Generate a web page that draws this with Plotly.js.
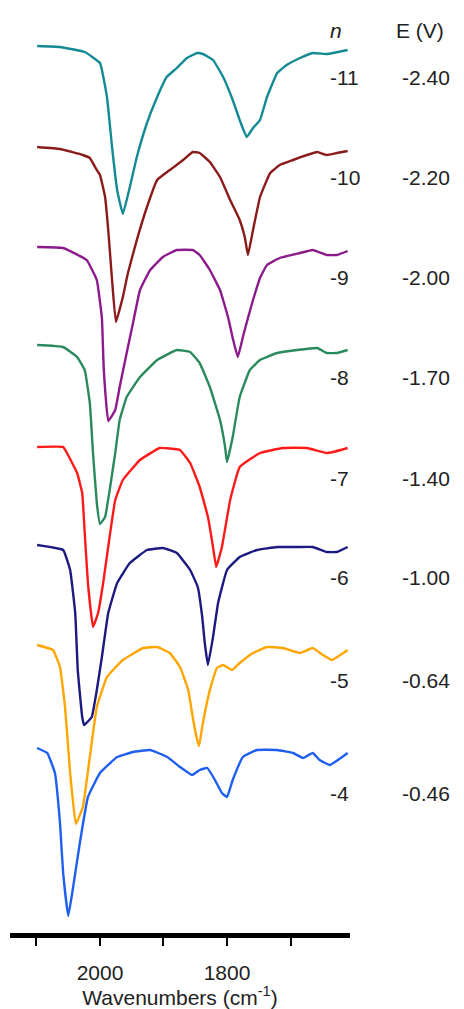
<!DOCTYPE html>
<html>
<head>
<meta charset="utf-8">
<script src="https://cdn.plot.ly/plotly-3.0.1.min.js"></script>
<style>html,body{margin:0;padding:0;background:#fff;}#chart{width:464px;height:1009px;}</style>
</head>
<body>
<div id="chart"></div>
<script>
// ---- data (wavenumbers in cm-1, stacked transmittance in arbitrary units) ----
const nLabels = ['-11','-10','-9','-8','-7','-6','-5','-4'];
const eLabels = ['-2.40','-2.20','-2.00','-1.70','-1.40','-1.00','-0.64','-0.46'];

const wnN11 = [2099,2063,2024,2000,1989,1981,1973,1964,1953,1942,1926,1910,1895,1879,1863,1847,1838,1822,1806,1791,1780,1769,1759,1748,1737,1721,1706,1685,1665,1643,1633,1610];
const tN11  = [8.87,8.86,8.81,8.70,8.36,7.86,7.43,7.19,7.46,7.76,8.10,8.36,8.56,8.65,8.75,8.80,8.79,8.73,8.56,8.33,8.13,7.96,8.05,8.13,8.36,8.60,8.68,8.75,8.80,8.79,8.80,8.83];

const wnN10 = [2099,2063,2027,2016,2005,2000,1992,1987,1981,1975,1964,1956,1942,1926,1910,1890,1869,1854,1843,1827,1811,1795,1780,1772,1767,1759,1748,1732,1717,1696,1674,1658,1643,1627,1610];
const tN10  = [7.86,7.84,7.78,7.75,7.63,7.58,7.36,7.03,6.53,6.11,6.36,6.60,6.93,7.26,7.53,7.63,7.73,7.81,7.80,7.71,7.56,7.33,7.13,6.96,6.78,7.03,7.36,7.60,7.68,7.73,7.78,7.81,7.78,7.80,7.82];

const wnN9 = [2099,2058,2021,2005,1997,1994,1987,1976,1969,1958,1948,1937,1921,1901,1879,1854,1843,1827,1811,1798,1791,1783,1775,1767,1759,1748,1737,1717,1685,1665,1643,1627,1610];
const tN9  = [6.86,6.85,6.73,6.53,6.15,5.63,5.12,5.23,5.46,5.80,6.10,6.43,6.63,6.76,6.83,6.83,6.78,6.63,6.43,6.15,5.95,5.76,5.96,6.15,6.33,6.55,6.68,6.75,6.80,6.83,6.78,6.78,6.82];

const wnN8 = [2099,2058,2036,2024,2016,2011,2005,2000,1992,1984,1976,1969,1958,1937,1910,1879,1858,1843,1827,1811,1803,1800,1791,1780,1764,1748,1721,1690,1658,1643,1627,1610];
const tN8  = [5.88,5.86,5.76,5.63,5.30,4.80,4.30,4.09,4.16,4.46,4.80,5.13,5.36,5.56,5.73,5.83,5.81,5.70,5.46,5.13,4.86,4.71,4.96,5.36,5.63,5.73,5.80,5.83,5.85,5.80,5.80,5.83];

const wnN7 = [2099,2058,2052,2036,2028,2024,2019,2011,2003,1995,1984,1976,1964,1937,1906,1874,1858,1843,1830,1822,1817,1808,1795,1780,1748,1712,1674,1643,1633,1610];
const tN7  = [4.86,4.86,4.80,4.60,4.40,4.00,3.50,3.06,3.20,3.50,4.00,4.33,4.53,4.73,4.85,4.83,4.70,4.46,4.16,3.86,3.66,3.86,4.33,4.66,4.80,4.85,4.85,4.80,4.81,4.85];

const wnN6 = [2099,2058,2047,2039,2035,2028,2025,2013,2005,1997,1987,1973,1953,1926,1901,1879,1858,1846,1839,1835,1830,1822,1814,1800,1780,1753,1721,1690,1665,1643,1627,1610];
const tN6  = [3.88,3.83,3.63,3.20,2.63,2.16,2.08,2.16,2.43,2.76,3.20,3.50,3.70,3.83,3.85,3.80,3.63,3.46,3.16,2.90,2.68,2.96,3.30,3.63,3.76,3.83,3.86,3.86,3.86,3.81,3.81,3.86];

const wnN5 = [2099,2074,2063,2055,2047,2038,2027,2016,2005,1989,1964,1932,1910,1890,1874,1861,1854,1847,1844,1838,1827,1816,1806,1792,1780,1759,1737,1712,1685,1665,1649,1635,1610];
const tN5  = [2.88,2.83,2.66,2.26,1.60,1.09,1.26,1.76,2.26,2.56,2.73,2.85,2.86,2.80,2.66,2.43,2.16,1.93,1.87,2.10,2.43,2.65,2.68,2.63,2.70,2.80,2.86,2.85,2.80,2.85,2.78,2.73,2.83];

const wnN4 = [2099,2083,2071,2063,2058,2050,2043,2031,2019,2000,1973,1948,1921,1894,1874,1855,1843,1831,1819,1808,1800,1791,1775,1753,1721,1696,1680,1665,1654,1638,1610];
const tN4  = [1.85,1.80,1.60,1.10,0.60,0.17,0.43,0.93,1.36,1.60,1.76,1.81,1.83,1.76,1.66,1.58,1.63,1.65,1.53,1.40,1.36,1.53,1.76,1.83,1.83,1.80,1.75,1.80,1.73,1.68,1.80];

const tickVals = [2100,2000,1900,1800,1700];
const tickText = ['','2000','','1800',''];

// ---- styling ----
const series = [
  {x: wnN11, y: tN11, color: '#138a94'},
  {x: wnN10, y: tN10, color: '#8b1a1a'},
  {x: wnN9,  y: tN9,  color: '#8b1a8b'},
  {x: wnN8,  y: tN8,  color: '#2a8a5c'},
  {x: wnN7,  y: tN7,  color: '#ff1a1a'},
  {x: wnN6,  y: tN6,  color: '#1a1a80'},
  {x: wnN5,  y: tN5,  color: '#ffa500'},
  {x: wnN4,  y: tN4,  color: '#1f5ff0'}
];
const traces = series.map((s, i) => ({
  type: 'scatter', mode: 'lines', x: s.x, y: s.y,
  line: {color: s.color, width: 2.4, shape: 'spline', smoothing: 0.3},
  name: nLabels[i], hoverinfo: 'skip', showlegend: false
}));

const W = 464, L = 10, R = 114, plotW = W - L - R;
const px2paper = p => (p - L) / plotW;
const labelY = [8.56, 7.56, 6.56, 5.56, 4.55, 3.56, 2.53, 1.40];
const font = "Liberation Sans, Arial, sans-serif";
const fs = 21;
const annotations = [];
nLabels.forEach((t, i) => {
  annotations.push({xref: 'paper', yref: 'y', x: px2paper(328), y: labelY[i], text: t,
    xanchor: 'left', yanchor: 'middle', showarrow: false, font: {family: font, size: fs, color: '#222'}});
  annotations.push({xref: 'paper', yref: 'y', x: px2paper(400), y: labelY[i], text: eLabels[i],
    xanchor: 'left', yanchor: 'middle', showarrow: false, font: {family: font, size: fs, color: '#222'}});
});
annotations.push({xref: 'paper', yref: 'paper', x: px2paper(328), y: 1.0, text: '<i>n</i>',
  xanchor: 'left', yanchor: 'middle', showarrow: false, font: {family: font, size: fs, color: '#222'}});
annotations.push({xref: 'paper', yref: 'paper', x: px2paper(394), y: 1.0, text: 'E (V)',
  xanchor: 'left', yanchor: 'middle', showarrow: false, font: {family: font, size: fs, color: '#222'}});

const layout = {
  width: 464, height: 1009,
  margin: {l: L, r: R, t: 30, b: 76},
  paper_bgcolor: '#fff', plot_bgcolor: '#fff',
  xaxis: {
    range: [2141.7, 1606.3], showgrid: false, zeroline: false,
    showline: true, linecolor: '#000', linewidth: 5,
    ticks: 'outside', ticklen: 8, tickwidth: 2, tickcolor: '#000',
    tickvals: tickVals, ticktext: tickText, ticklabelstandoff: 9,
    tickfont: {family: font, size: fs, color: '#222'},
    title: {text: 'Wavenumbers (cm<sup>-1</sup>)', font: {family: font, size: fs, color: '#222'}, standoff: 0}
  },
  yaxis: {range: [0, 9.03], visible: false, showgrid: false, zeroline: false},
  annotations: annotations
};

Plotly.newPlot('chart', traces, layout, {displayModeBar: false, staticPlot: true});
</script>
</body>
</html>
